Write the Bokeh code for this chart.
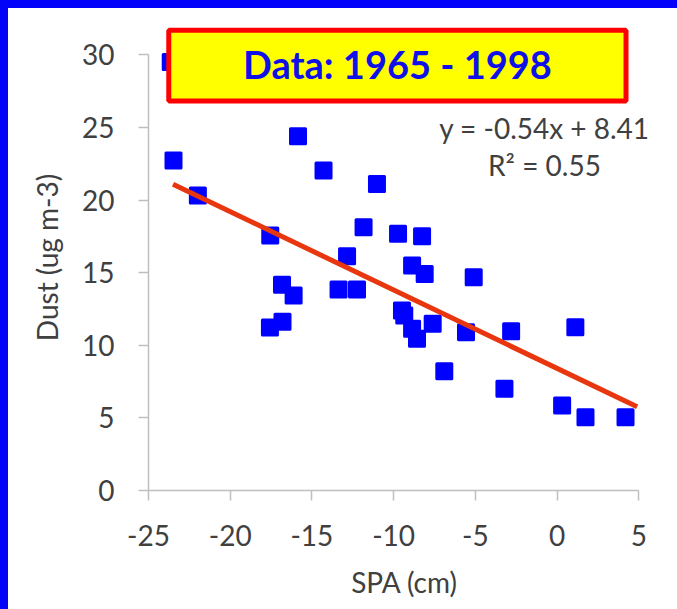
from bokeh.plotting import figure
from bokeh.models import Range1d, SingleIntervalTicker, BoxAnnotation, Label, PrintfTickFormatter
from bokeh.embed import file_html
from bokeh.resources import INLINE

# ---- data ----
spa_cm = [-23.64, -23.47, -21.98, -15.85, -14.29, -11.02, -11.84, -17.55,
          -9.73, -8.26, -12.85, -8.87, -8.10, -5.10, -16.83, -16.12,
          -13.37, -12.24, -9.49, -9.35, -8.87, -8.57, -7.61, -5.57,
          -2.81, 1.12, -6.90, -3.22, 0.31, 1.74, 4.19, -17.57, -16.80]
dust = [29.51, 22.73, 20.32, 24.40, 22.04, 21.12, 18.13, 17.56,
        17.68, 17.51, 16.14, 15.50, 14.92, 14.69, 14.17, 13.43,
        13.84, 13.84, 12.40, 12.05, 11.14, 10.45, 11.48, 10.90,
        10.97, 11.25, 8.22, 7.01, 5.85, 5.04, 5.04, 11.23, 11.62]

trend_slope = -0.54
trend_intercept = 8.41
trend_x = [-23.5, 4.9]
trend_y = [trend_slope * x + trend_intercept for x in trend_x]

title_text = "Data: 1965 - 1998"
eq_lines = ["y = -0.54x + 8.41", "R\u00b2 = 0.55"]

FONT = "Lato"
GREY = "#404040"
AXIS = "#bfbfbf"

p = figure(width=677, height=609, output_backend="svg", toolbar_location=None,
           x_range=Range1d(-25, 6.33), y_range=Range1d(0, 32.1),
           min_border_left=148, min_border_right=17,
           min_border_top=24, min_border_bottom=119)
p.styles = {
    "background": ("linear-gradient(#0303f8, #0303f8) left top / 8px 100% no-repeat, "
                   "linear-gradient(#0202fa, #0202fa) left top / 100% 8px no-repeat")
}
p.border_fill_color = None
p.background_fill_color = "white"
p.outline_line_color = None
p.grid.visible = False

p.xaxis.ticker = SingleIntervalTicker(interval=5, num_minor_ticks=0)
p.yaxis.ticker = SingleIntervalTicker(interval=5, num_minor_ticks=0)
p.xaxis.bounds = (-25, 5)
p.yaxis.bounds = (0, 30)
for ax in (p.xaxis[0], p.yaxis[0]):
    ax.formatter = PrintfTickFormatter(format="%d")
    ax.axis_line_color = AXIS
    ax.axis_line_width = 1.5
    ax.major_tick_line_color = AXIS
    ax.major_tick_line_width = 1.5
    ax.major_tick_out = 10
    ax.major_tick_in = 0
    ax.minor_tick_line_color = None
    ax.major_label_text_font = FONT
    ax.major_label_text_font_size = "28px"
    ax.major_label_text_color = GREY
    ax.axis_label_text_font = FONT
    ax.axis_label_text_font_size = "28px"
    ax.axis_label_text_font_style = "normal"
    ax.axis_label_text_color = GREY
p.xaxis.axis_label = "SPA (cm)"
p.yaxis.axis_label = "Dust (ug m-3)"
p.xaxis.major_label_standoff = 24
p.xaxis.axis_label_standoff = 16
p.yaxis.major_label_standoff = 24
p.yaxis.axis_label_standoff = 15

p.scatter(spa_cm, dust, marker="square", size=15, line_width=3,
          line_join="round", fill_color="#0000ff", line_color="#0000ff")

p.line(trend_x, trend_y, line_color="#e8360e", line_width=5)

for txt, yy in zip(eq_lines, [25.0, 22.4]):
    p.add_layout(Label(x=-0.77, y=yy, text=txt, text_font=FONT,
                       text_font_size="28px", text_color=GREY,
                       text_align="center", text_baseline="middle"))

box = BoxAnnotation(left=-23.76, right=4.22, bottom=26.83, top=31.71,
                    fill_color="#ffff00", fill_alpha=1.0,
                    line_color="#ff0000", line_width=5, line_alpha=1.0)
p.add_layout(box)
p.add_layout(Label(x=-9.77, y=29.35, text=title_text, text_font=FONT,
                   text_font_size="38px", text_font_style="bold",
                   text_color="#1010e8", text_align="center",
                   text_baseline="middle"))

open("out.html", "w").write(file_html(p, INLINE))
